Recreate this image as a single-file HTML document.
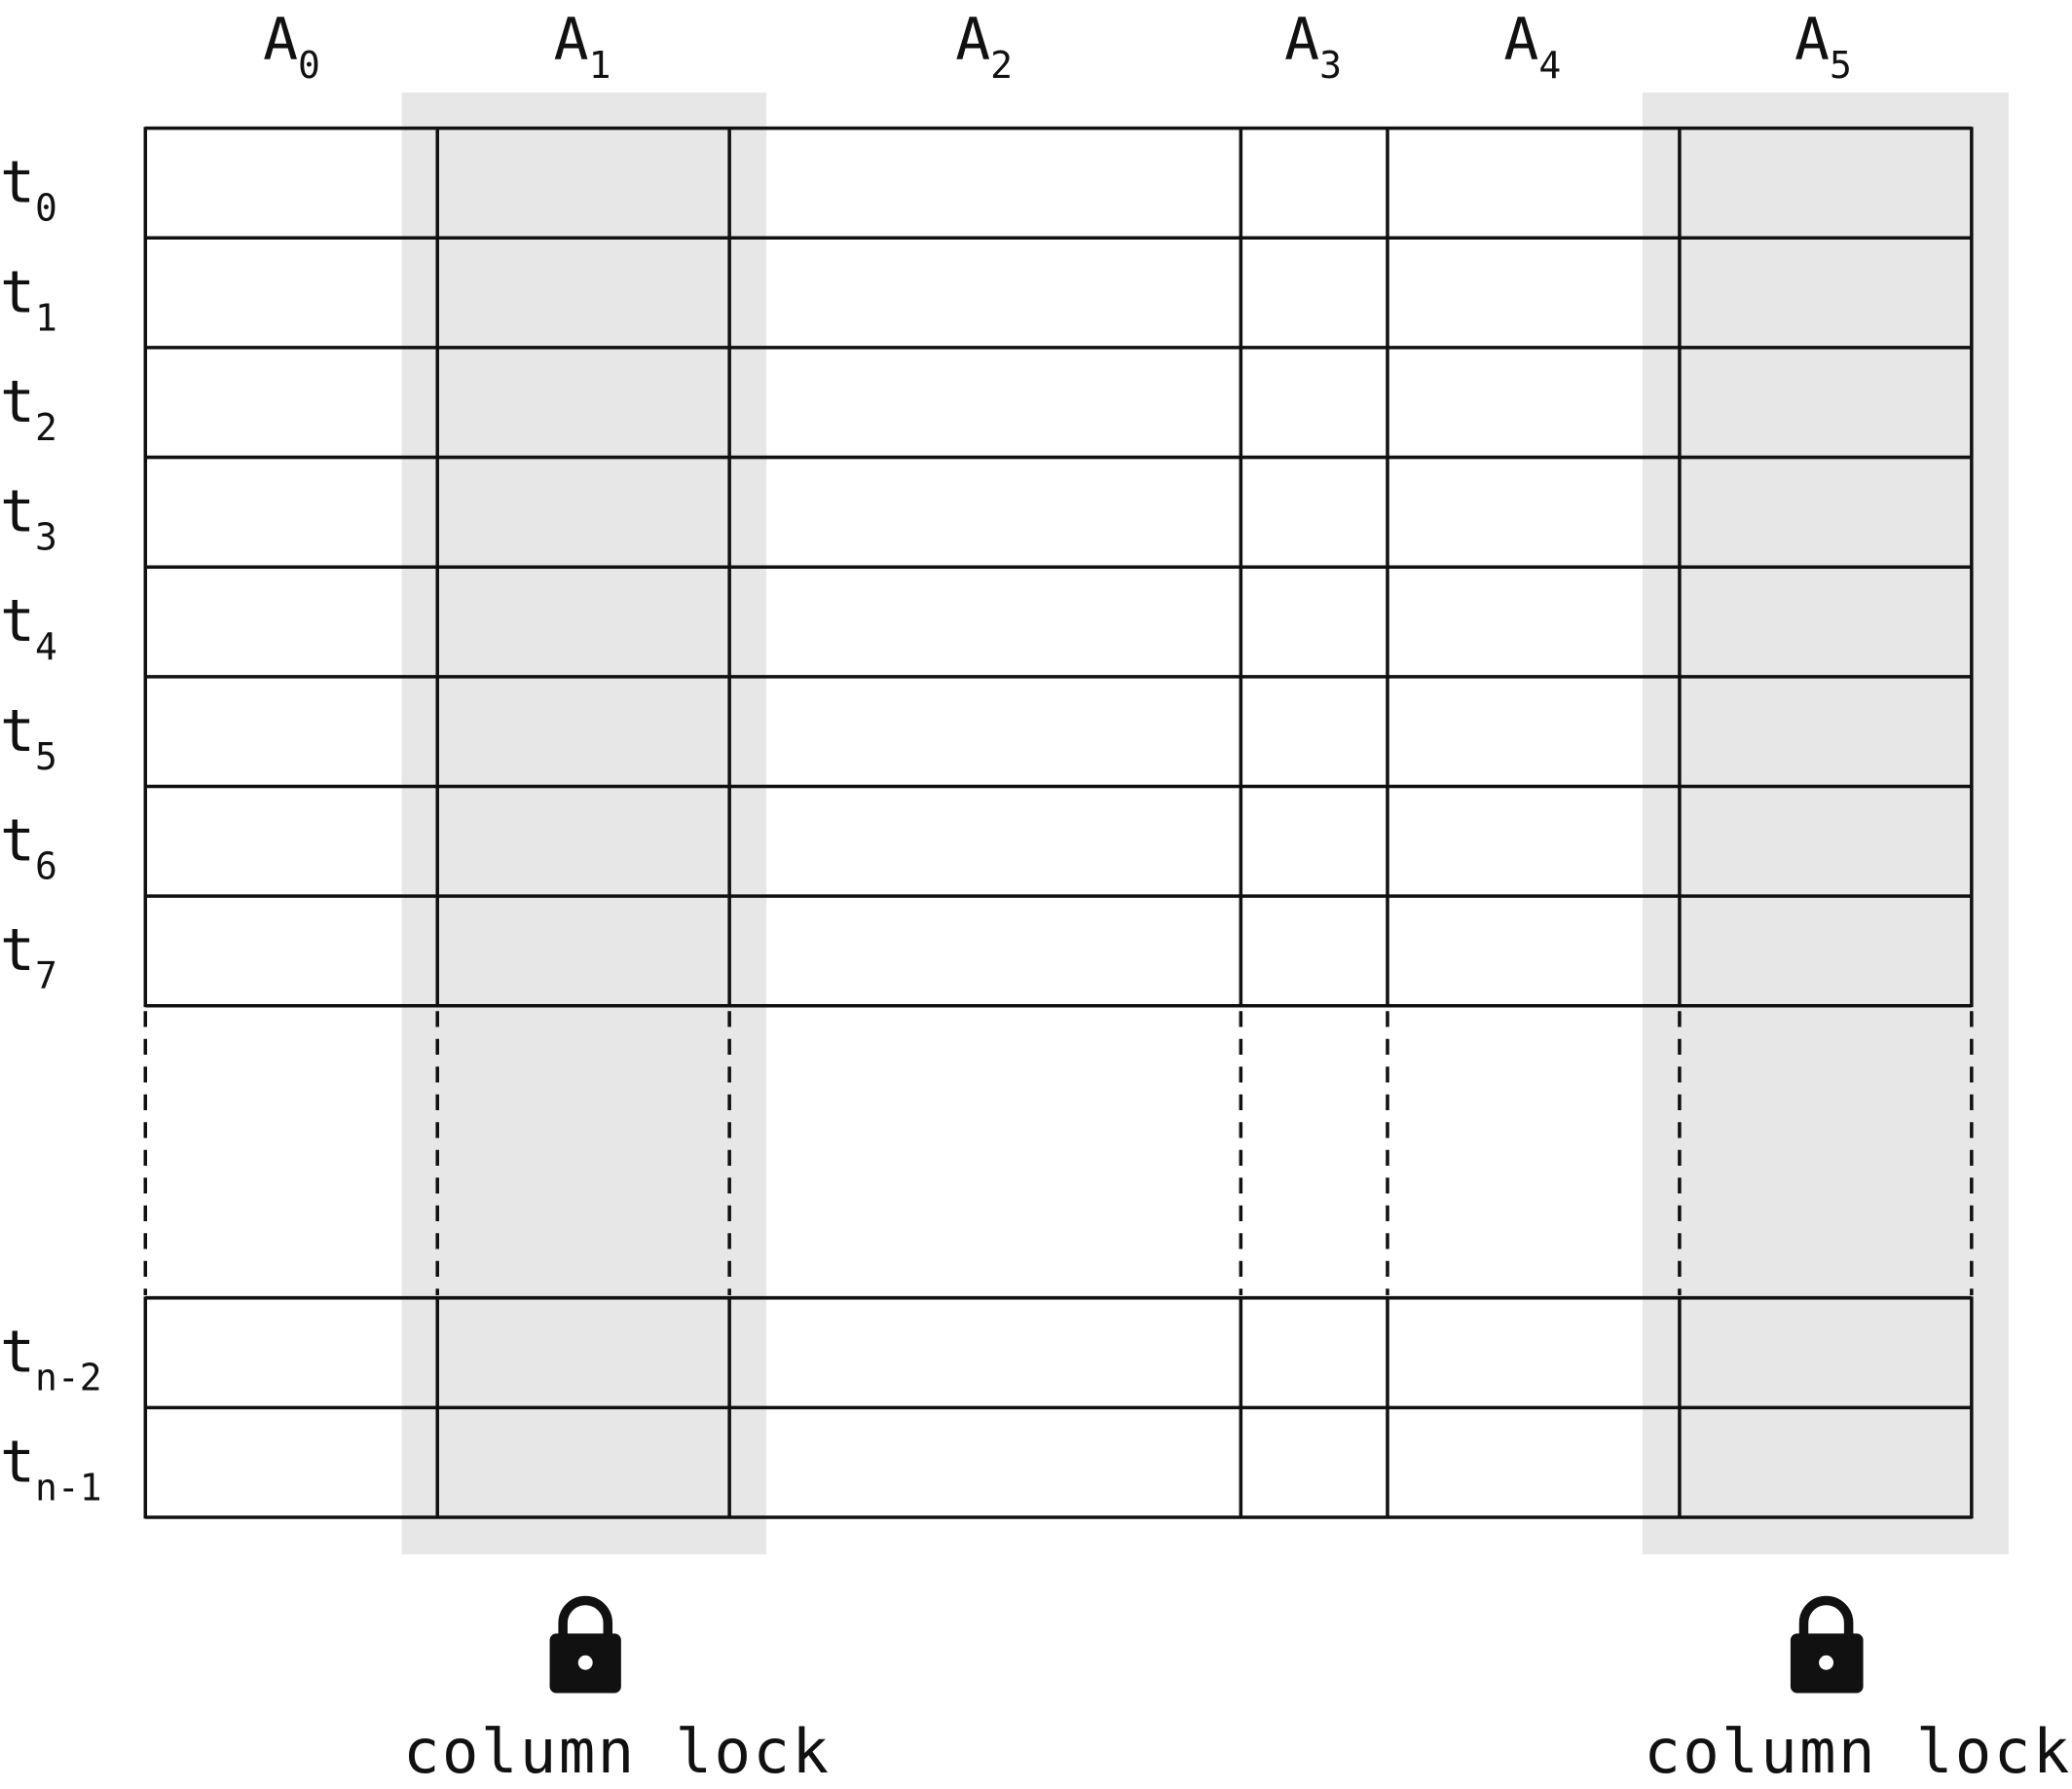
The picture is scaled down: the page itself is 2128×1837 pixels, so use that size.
<!DOCTYPE html>
<html><head><meta charset="utf-8"><style>
html,body{margin:0;padding:0;background:#fff;}
svg{display:block;}
text{font-family:"DejaVu Sans Mono","Liberation Mono",monospace;fill:#111;}
</style></head><body>
<svg width="2128" height="1837" viewBox="0 0 1568 1353.6" xmlns="http://www.w3.org/2000/svg">
<rect x="304" y="70" width="276" height="1106" fill="#e6e7e6"/>
<rect x="1243" y="70" width="277" height="1106" fill="#e6e7e6"/>
<g stroke="#111" stroke-width="2.6" fill="none">
<path d="M110 97H1492M110 180H1492M110 263H1492M110 346H1492M110 429H1492M110 512H1492M110 595H1492M110 678H1492M110 761H1492M110 982H1492M110 1065H1492M110 1148H1492"/>
<path d="M110 96V762M331 96V762M552 96V762M939 96V762M1050 96V762M1271 96V762M1492 96V762"/>
<path d="M110 981V1149M331 981V1149M552 981V1149M939 981V1149M1050 981V1149M1271 981V1149M1492 981V1149"/>
<path stroke-dasharray="12,9" d="M110 765V980M331 765V980M552 765V980M939 765V980M1050 765V980M1271 765V980M1492 765V980"/>
</g>
<g font-size="44">
<text x="199" y="45">A<tspan font-size="28" dy="14">0</tspan></text>
<text x="419" y="45">A<tspan font-size="28" dy="14">1</tspan></text>
<text x="723" y="45">A<tspan font-size="28" dy="14">2</tspan></text>
<text x="972" y="45">A<tspan font-size="28" dy="14">3</tspan></text>
<text x="1138" y="45">A<tspan font-size="28" dy="14">4</tspan></text>
<text x="1358" y="45">A<tspan font-size="28" dy="14">5</tspan></text>
<text x="0" y="153">t<tspan font-size="28" dy="14">0</tspan></text>
<text x="0" y="236">t<tspan font-size="28" dy="14">1</tspan></text>
<text x="0" y="319">t<tspan font-size="28" dy="14">2</tspan></text>
<text x="0" y="402">t<tspan font-size="28" dy="14">3</tspan></text>
<text x="0" y="485">t<tspan font-size="28" dy="14">4</tspan></text>
<text x="0" y="568">t<tspan font-size="28" dy="14">5</tspan></text>
<text x="0" y="651">t<tspan font-size="28" dy="14">6</tspan></text>
<text x="0" y="734">t<tspan font-size="28" dy="14">7</tspan></text>
<text x="0" y="1038">t<tspan font-size="28" dy="14">n-2</tspan></text>
<text x="0" y="1121">t<tspan font-size="28" dy="14">n-1</tspan></text>
</g>
<g fill="#111">
<path d="M426 1240v-12a17 17 0 0 1 34 0v12" fill="none" stroke="#111" stroke-width="7"/>
<rect x="416" y="1236" width="54" height="45" rx="5"/>
<circle cx="443" cy="1258" r="5.5" fill="#fff"/>
<path d="M1365 1240v-12a17 17 0 0 1 34 0v12" fill="none" stroke="#111" stroke-width="7"/>
<rect x="1355" y="1236" width="55" height="45" rx="5"/>
<circle cx="1382" cy="1258" r="5.5" fill="#fff"/>
</g>
<g font-size="46">
<text x="466" y="1341" text-anchor="middle" textLength="322">column lock</text>
<text x="1405" y="1341" text-anchor="middle" textLength="322">column lock</text>
</g>
</svg>
</body></html>
